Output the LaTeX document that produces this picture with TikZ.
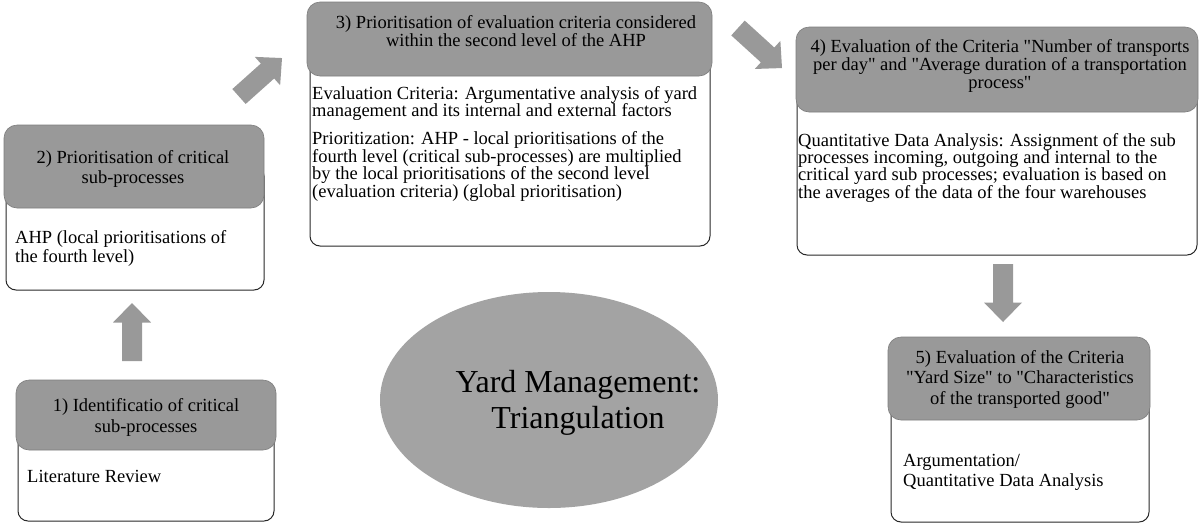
\documentclass[tikz,border=0pt]{standalone}
\usepackage{fontspec}
\setmainfont{Liberation Serif}[Ligatures=TeXOff]
\usetikzlibrary{shapes.geometric}
\definecolor{headgray}{RGB}{153,153,153}
\definecolor{headline}{RGB}{125,125,125}
\definecolor{ellgray}{RGB}{163,163,163}
\definecolor{arrgray}{RGB}{153,153,153}
\definecolor{bodyline}{RGB}{40,40,40}
\newcommand\bigarrow[3]{%
  \fill[arrgray, shift={(#1)}, rotate=#2]
    (0,-10) -- (#3-19.5,-10) -- (#3-19.5,-19) -- (#3,0) -- (#3-19.5,19) -- (#3-19.5,10) -- (0,10) -- cycle;}
\begin{document}
\begin{tikzpicture}[x=1pt,y=-1pt,
  body/.style={draw=bodyline, line width=1pt, fill=white, rounded corners=10pt, anchor=north west, inner sep=0pt, outer sep=0pt},
  head/.style={draw=headline, line width=0.6pt, fill=headgray, rounded corners=13pt, anchor=north west, inner sep=0pt, outer sep=0pt},
  htext/.style={anchor=north, align=center, inner sep=0pt, font=\fontsize{18.5}{19.5}\selectfont},
  btext/.style={anchor=north west, align=left, inner sep=0pt, font=\fontsize{18.5}{17.5}\selectfont}]
\useasboundingbox (0,0) rectangle (1199,523);
% Box 1
\node[body, minimum width=256pt, minimum height=106pt] (b1) at (18,415) {};
\node[head, minimum width=260pt, minimum height=70pt] (h1) at (16,380) {};
\node[htext, font=\fontsize{18.5}{21}\selectfont] (t1) at (146,398) {1) Identificatio of critical\\sub-processes};
\node[btext] (c1) at (27,470) {Literature Review};
% Box 2
\node[body, minimum width=258pt, minimum height=124pt] (b2) at (6,166) {};
\node[head, minimum width=260pt, minimum height=83pt] (h2) at (4,125) {};
\node[htext, font=\fontsize{18.5}{20}\selectfont] (t2) at (133,150) {2) Prioritisation of critical\\sub-processes};
\node[btext, font=\fontsize{18.5}{19}\selectfont] (c2) at (15,230) {AHP (local prioritisations of\\the fourth level)};
% Box 3
\node[body, minimum width=400pt, minimum height=207pt] (b3) at (310,39) {};
\node[head, minimum width=405pt, minimum height=74pt] (h3) at (307,2) {};
\node[htext, font=\fontsize{18.5}{18}\selectfont] (t3) at (516,15) {3) Prioritisation of evaluation criteria considered\\within the second level of the AHP};
\node[btext] (c3) at (312,86) {Evaluation Criteria: Argumentative analysis of yard\\management and its internal and external factors\\[10.5pt]Prioritization: AHP - local prioritisations of the\\fourth level (critical sub-processes) are multiplied\\by the local prioritisations of the second level\\(evaluation criteria) (global prioritisation)};
% Box 4
\node[body, minimum width=400pt, minimum height=185pt] (b4) at (797,70) {};
\node[head, minimum width=402pt, minimum height=85pt] (h4) at (796,27) {};
\node[htext, font=\fontsize{18.5}{18}\selectfont] (t4) at (1000,39) {4) Evaluation of the Criteria "Number of transports\\per day" and "Average duration of a transportation\\process"};
\node[btext, font=\fontsize{18.5}{17.3}\selectfont] (c4) at (798,133) {Quantitative Data Analysis: Assignment of the sub\\processes incoming, outgoing and internal to the\\critical yard sub processes; evaluation is based on\\the averages of the data of the four warehouses};
% Box 5
\node[body, minimum width=258pt, minimum height=144pt] (b5) at (891,378) {};
\node[head, minimum width=262pt, minimum height=83pt] (h5) at (888,337) {};
\node[htext, font=\fontsize{18.5}{20.5}\selectfont] (t5) at (1020,350) {5) Evaluation of the Criteria\\"Yard Size" to "Characteristics\\of the transported good"};
\node[btext, font=\fontsize{18.5}{20}\selectfont] (c5) at (903,454) {Argumentation/\\Quantitative Data Analysis};
% Centre ellipse
\node[ellipse, fill=ellgray, draw=none, minimum width=338pt, minimum height=216pt, inner sep=0pt] (ell) at (549,400) {};
\node[anchor=north, align=center, inner sep=0pt, font=\fontsize{32}{36}\selectfont] (elltext) at (578,370) {Yard Management:\\Triangulation};
% Block arrows
\bigarrow{132,361}{90}{58}
\bigarrow{239,96.5}{41.8}{57.7}
\bigarrow{738,28}{-42.3}{59.5}
\bigarrow{1003,264}{-90}{58}
\end{tikzpicture}
\end{document}
